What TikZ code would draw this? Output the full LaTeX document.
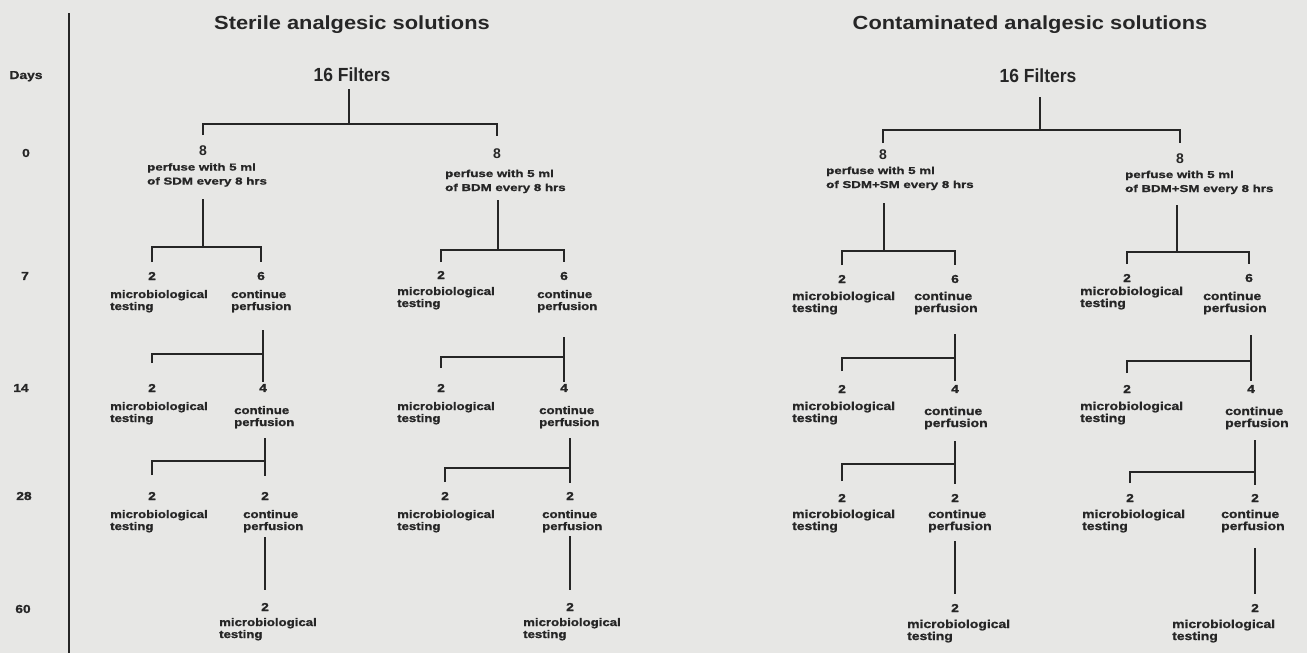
\documentclass[tikz,border=0pt]{standalone}
\usepackage{fontspec}
\setmainfont{Liberation Sans}
\newfontfamily\labf[FakeStretch=1.2,FakeBold=1.2]{Liberation Sans}
\newfontfamily\titf[FakeStretch=1.15]{Liberation Sans}
\newfontfamily\filf[FakeStretch=0.92]{Liberation Sans}
\newfontfamily\perf[FakeStretch=1.33,FakeBold=1.2]{Liberation Sans}
\definecolor{bg}{RGB}{231,231,229}
\definecolor{ink}{RGB}{38,38,38}
\tikzset{
 ttl/.style={font=\titf\bfseries\fontsize{19}{22}\selectfont, text=ink, inner sep=0, anchor=base},
 fil/.style={font=\filf\bfseries\fontsize{19}{22}\selectfont, text=ink, inner sep=0, anchor=base},
 big/.style={font=\bfseries\fontsize{14}{16}\selectfont, text=ink, inner sep=0},
 num/.style={font=\labf\bfseries\fontsize{11.5}{13}\selectfont, text=ink, inner sep=0},
 lbl/.style={font=\labf\bfseries\fontsize{11}{12}\selectfont, text=ink, inner sep=0, align=left, anchor=base west},
 clbl/.style={lbl, font=\labf\bfseries\fontsize{11.6}{12}\selectfont},
 per/.style={font=\perf\bfseries\fontsize{10}{14}\selectfont, text=ink, inner sep=0, align=left, anchor=base west},
 ln/.style={draw=ink, line width=1.4pt},
}
\begin{document}
\begin{tikzpicture}[x=1pt,y=-1pt]
\fill[bg] (0,0) rectangle (1307,653);
\useasboundingbox (0,0) rectangle (1307,653);

% ---------- Sterile panel ----------
\draw[ln] (69,13) coordinate (axT) -- (69,653) coordinate (axB);
\node[ttl] (sT) at (352,29) {Sterile analgesic solutions};
\node[num, anchor=base] (dD) at (26,79) {Days};
\node[num] (d0) at (26,153) {0};
\node[num] (d7) at (25,276) {7};
\node[num] (d14) at (21,388) {14};
\node[num] (d28) at (24,496) {28};
\node[num] (d60) at (23,609) {60};

\node[fil] (sF) at (352,81) {16 Filters};
\node[big] (s8L) at (203,151) {8};
\node[big] (s8R) at (497,154) {8};
\node[per] (sPL) at (147,184.5) {perfuse with 5 ml\\of SDM every 8 hrs};
\node[per] (sPR) at (445,191) {perfuse with 5 ml\\of BDM every 8 hrs};

\draw[ln] (349,89) coordinate (s1a) -- (349,124) coordinate (s1b);
\draw[ln] (203,135) coordinate (s1l) |- (497,124) coordinate (s1r) -- (497,136) coordinate (s1rr);

% left branch
\draw[ln] (203,199) coordinate (s2a) -- (203,247) coordinate (s2b);
\draw[ln] (152,262) coordinate (s2l) |- (261,247) coordinate (s2r) -- (261,262) coordinate (s2rr);
\node[num] (sa7) at (152,276) {2};
\node[num] (sb7) at (261,276) {6};
\node[lbl] (sma7) at (110,310) {microbiological\\testing};
\node[lbl] (sca7) at (231,310) {continue\\perfusion};
\draw[ln] (263,330) coordinate (s3a) -- (263,382) coordinate (s3b);
\draw[ln] (152,363) coordinate (s3l) |- (263,354) coordinate (s3m);
\node[num] (sa14) at (152,388) {2};
\node[num] (sb14) at (263,388) {4};
\node[lbl] (sma14) at (110,422) {microbiological\\testing};
\node[lbl] (sca14) at (234,426) {continue\\perfusion};
\draw[ln] (265,438) coordinate (s4a) -- (265,476) coordinate (s4b);
\draw[ln] (152,475) coordinate (s4l) |- (265,461) coordinate (s4m);
\node[num] (sa28) at (152,496) {2};
\node[num] (sb28) at (265,496) {2};
\node[lbl] (sma28) at (110,530) {microbiological\\testing};
\node[lbl] (sca28) at (243,530) {continue\\perfusion};
\draw[ln] (265,537) coordinate (s5a) -- (265,590) coordinate (s5b);
\node[num] (sb60) at (265,607) {2};
\node[lbl] (smb60) at (219,638) {microbiological\\testing};

% right branch
\draw[ln] (498,200) coordinate (t2a) -- (498,250) coordinate (t2b);
\draw[ln] (441,262) coordinate (t2l) |- (564,250) coordinate (t2r) -- (564,262) coordinate (t2rr);
\node[num] (ta7) at (441,275) {2};
\node[num] (tb7) at (564,276) {6};
\node[lbl] (tma7) at (397,307) {microbiological\\testing};
\node[lbl] (tca7) at (537,310) {continue\\perfusion};
\draw[ln] (564,337) coordinate (t3a) -- (564,382) coordinate (t3b);
\draw[ln] (441,368) coordinate (t3l) |- (564,357) coordinate (t3m);
\node[num] (ta14) at (441,388) {2};
\node[num] (tb14) at (564,388) {4};
\node[lbl] (tma14) at (397,422) {microbiological\\testing};
\node[lbl] (tca14) at (539,426) {continue\\perfusion};
\draw[ln] (570,438) coordinate (t4a) -- (570,483) coordinate (t4b);
\draw[ln] (445,482) coordinate (t4l) |- (570,468) coordinate (t4m);
\node[num] (ta28) at (445,496) {2};
\node[num] (tb28) at (570,496) {2};
\node[lbl] (tma28) at (397,530) {microbiological\\testing};
\node[lbl] (tca28) at (542,530) {continue\\perfusion};
\draw[ln] (570,536) coordinate (t5a) -- (570,590) coordinate (t5b);
\node[num] (tb60) at (570,607) {2};
\node[lbl] (tmb60) at (523,638) {microbiological\\testing};

% ---------- Contaminated panel ----------
\node[ttl] (cT) at (1030,29) {Contaminated analgesic solutions};
\node[fil] (cF) at (1038,82) {16 Filters};
\node[big] (c8L) at (883,155) {8};
\node[big] (c8R) at (1180,159) {8};
\node[per] (cPL) at (826,188) {perfuse with 5 ml\\of SDM+SM every 8 hrs};
\node[per] (cPR) at (1125,192) {perfuse with 5 ml\\of BDM+SM every 8 hrs};

\draw[ln] (1040,97) coordinate (c1a) -- (1040,130) coordinate (c1b);
\draw[ln] (883,143) coordinate (c1l) |- (1180,130) coordinate (c1r) -- (1180,143) coordinate (c1rr);

% left branch
\draw[ln] (884,203) coordinate (c2a) -- (884,251) coordinate (c2b);
\draw[ln] (842,265) coordinate (c2l) |- (955,251) coordinate (c2r) -- (955,265) coordinate (c2rr);
\node[num] (ca7) at (842,279) {2};
\node[num] (cb7) at (955,279) {6};
\node[clbl] (cma7) at (792,312) {microbiological\\testing};
\node[clbl] (cca7) at (914,312) {continue\\perfusion};
\draw[ln] (955,334) coordinate (c3a) -- (955,381) coordinate (c3b);
\draw[ln] (842,371) coordinate (c3l) |- (955,358) coordinate (c3m);
\node[num] (ca14) at (842,389) {2};
\node[num] (cb14) at (955,389) {4};
\node[clbl] (cma14) at (792,422) {microbiological\\testing};
\node[clbl] (cca14) at (924,427) {continue\\perfusion};
\draw[ln] (955,441) coordinate (c4a) -- (955,484) coordinate (c4b);
\draw[ln] (842,481) coordinate (c4l) |- (955,464) coordinate (c4m);
\node[num] (ca28) at (842,498) {2};
\node[num] (cb28) at (955,498) {2};
\node[clbl] (cma28) at (792,530) {microbiological\\testing};
\node[clbl] (cca28) at (928,530) {continue\\perfusion};
\draw[ln] (955,541) coordinate (c5a) -- (955,594) coordinate (c5b);
\node[num] (cb60) at (955,608) {2};
\node[clbl] (cmb60) at (907,640) {microbiological\\testing};

% right branch
\draw[ln] (1177,205) coordinate (e2a) -- (1177,252) coordinate (e2b);
\draw[ln] (1127,264) coordinate (e2l) |- (1249,252) coordinate (e2r) -- (1249,264) coordinate (e2rr);
\node[num] (ea7) at (1127,278) {2};
\node[num] (eb7) at (1249,278) {6};
\node[clbl] (ema7) at (1080,307) {microbiological\\testing};
\node[clbl] (eca7) at (1203,312) {continue\\perfusion};
\draw[ln] (1251,335) coordinate (e3a) -- (1251,381) coordinate (e3b);
\draw[ln] (1127,373) coordinate (e3l) |- (1251,361) coordinate (e3m);
\node[num] (ea14) at (1127,389) {2};
\node[num] (eb14) at (1251,389) {4};
\node[clbl] (ema14) at (1080,422) {microbiological\\testing};
\node[clbl] (eca14) at (1225,427) {continue\\perfusion};
\draw[ln] (1255,440) coordinate (e4a) -- (1255,485) coordinate (e4b);
\draw[ln] (1130,483) coordinate (e4l) |- (1255,472) coordinate (e4m);
\node[num] (ea28) at (1130,498) {2};
\node[num] (eb28) at (1255,498) {2};
\node[clbl] (ema28) at (1082,530) {microbiological\\testing};
\node[clbl] (eca28) at (1221,530) {continue\\perfusion};
\draw[ln] (1255,548) coordinate (e5a) -- (1255,594) coordinate (e5b);
\node[num] (eb60) at (1255,608) {2};
\node[clbl] (emb60) at (1172,640) {microbiological\\testing};
\end{tikzpicture}
\end{document}
